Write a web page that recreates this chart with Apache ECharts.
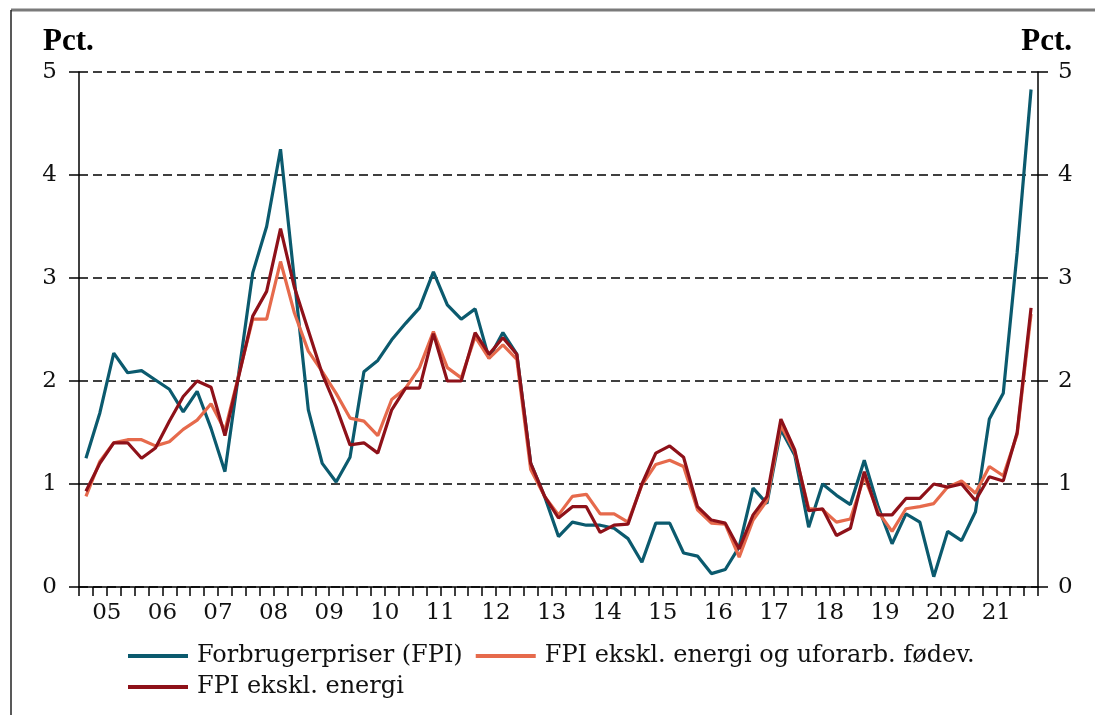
<!DOCTYPE html>
<html>
<head>
<meta charset="utf-8">
<script src="https://cdn.jsdelivr.net/npm/echarts@6/dist/echarts.min.js"></script>
<style>
  html, body { margin: 0; padding: 0; background: #fff; }
  #chart { width: 1095px; height: 715px; }
</style>
</head>
<body>
<div id="chart"></div>
<script>
// year labels on the x axis, one per year, quarterly data starts 2005K1
var yearLabels = ['05', '06', '07', '08', '09', '10', '11', '12', '13', '14', '15', '16', '17', '18', '19', '20', '21'];

// Forbrugerpriser (FPI), 2005K1 - 2022K1
var fpi = [
	1.25, 1.69, 2.27, 2.08, 2.10, 2.01, 1.92, 1.70, 1.90, 1.54,
	1.12, 2.08, 3.05, 3.50, 4.25, 2.98, 1.72, 1.20, 1.02, 1.26,
	2.09, 2.20, 2.40, 2.56, 2.71, 3.06, 2.74, 2.60, 2.70, 2.22,
	2.47, 2.26, 1.20, 0.88, 0.49, 0.63, 0.60, 0.60, 0.57, 0.47,
	0.24, 0.62, 0.62, 0.33, 0.30, 0.13, 0.17, 0.39, 0.96, 0.81,
	1.53, 1.28, 0.58, 1.00, 0.89, 0.80, 1.23, 0.78, 0.42, 0.71,
	0.63, 0.10, 0.54, 0.45, 0.73, 1.63, 1.88, 3.25, 4.83
];
// FPI ekskl. energi og uforarb. fødevarer
var core = [
	0.88, 1.22, 1.40, 1.43, 1.43, 1.37, 1.41, 1.53, 1.62, 1.78,
	1.52, 2.06, 2.60, 2.60, 3.16, 2.66, 2.29, 2.09, 1.88, 1.64,
	1.61, 1.47, 1.82, 1.93, 2.13, 2.48, 2.13, 2.03, 2.43, 2.22,
	2.35, 2.21, 1.14, 0.88, 0.70, 0.88, 0.90, 0.71, 0.71, 0.63,
	0.99, 1.19, 1.23, 1.17, 0.75, 0.62, 0.61, 0.29, 0.65, 0.84,
	1.57, 1.31, 0.76, 0.75, 0.63, 0.66, 1.07, 0.73, 0.54, 0.76,
	0.78, 0.81, 0.97, 1.03, 0.91, 1.17, 1.08, 1.48, 2.65
];
// FPI ekskl. energi
var exEnergy = [
	0.93, 1.20, 1.40, 1.40, 1.25, 1.35, 1.61, 1.85, 2.00, 1.94,
	1.47, 2.05, 2.63, 2.87, 3.48, 2.91, 2.49, 2.07, 1.75, 1.38,
	1.40, 1.30, 1.72, 1.93, 1.93, 2.46, 2.00, 2.00, 2.47, 2.26,
	2.42, 2.26, 1.20, 0.88, 0.67, 0.78, 0.78, 0.53, 0.60, 0.61,
	1.00, 1.30, 1.37, 1.26, 0.78, 0.65, 0.62, 0.37, 0.70, 0.88,
	1.63, 1.33, 0.74, 0.76, 0.50, 0.57, 1.12, 0.70, 0.70, 0.86,
	0.86, 1.00, 0.97, 1.00, 0.84, 1.07, 1.03, 1.50, 2.71
];

var nQuarters = fpi.length;
// each quarter sits in the middle of its own tick interval
function toPoints(arr) {
	return arr.map(function (v, i) { return [i + 0.5, v]; });
}

var tickFont = { fontFamily: 'DejaVu Serif', fontSize: 23, color: '#111' };
var axisBlack = { color: '#000', width: 1.5 };
var legendText = { fontFamily: 'DejaVu Serif', fontSize: 24, color: '#111', padding: [0, 0, 0, 4] };

var myChart = echarts.init(document.getElementById('chart'));
var option = {
	animation: false,
	backgroundColor: '#fff',
	grid: { left: 79, right: 57, top: 72, bottom: 128 },
	xAxis: {
		type: 'value',
		min: 0,
		max: nQuarters,
		interval: 1,
		axisLine: { show: true, lineStyle: axisBlack },
		axisTick: { show: true, inside: false, length: 9, lineStyle: axisBlack },
		splitLine: { show: false },
		axisLabel: Object.assign({
			margin: 15,
			formatter: function (v) {
				// year label in the middle of its four quarters
				if (v % 4 === 2) {
					var k = (v - 2) / 4;
					return yearLabels[k] || '';
				}
				return '';
			}
		}, tickFont)
	},
	yAxis: [
		{
			type: 'value',
			min: 0, max: 5, interval: 1,
			position: 'left',
			axisLine: { show: true, lineStyle: axisBlack },
			axisTick: { show: true, length: 10, lineStyle: axisBlack },
			splitLine: { show: true, lineStyle: { color: '#000', width: 1.6, type: [9, 5] } },
			axisLabel: Object.assign({ margin: 22 }, tickFont)
		},
		{
			type: 'value',
			min: 0, max: 5, interval: 1,
			position: 'right',
			axisLine: { show: true, lineStyle: axisBlack },
			axisTick: { show: true, length: 10, lineStyle: axisBlack },
			splitLine: { show: false },
			axisLabel: Object.assign({ margin: 20 }, tickFont)
		}
	],
	legend: [
		{
			left: 123,
			top: 639,
			itemWidth: 60,
			itemHeight: 4,
			itemGap: 13,
			icon: 'rect',
			textStyle: legendText,
			data: ['Forbrugerpriser (FPI)', 'FPI ekskl. energi og uforarb. fødev.']
		},
		{
			left: 123,
			top: 670,
			itemWidth: 60,
			itemHeight: 4,
			icon: 'rect',
			textStyle: legendText,
			data: ['FPI ekskl. energi']
		}
	],
	graphic: [
		// frame remains of the original figure box
		{ type: 'line', shape: { x1: 11, y1: 10, x2: 1095, y2: 10 }, style: { stroke: '#7a7a7a', lineWidth: 3 } },
		{ type: 'line', shape: { x1: 11, y1: 10, x2: 11, y2: 715 }, style: { stroke: '#222', lineWidth: 1.5 } },
		{ type: 'text', left: 43, top: 26, style: { text: 'Pct.', font: 'bold 31px "Liberation Serif"', fill: '#000' } },
		{ type: 'text', right: 23, top: 26, style: { text: 'Pct.', font: 'bold 31px "Liberation Serif"', fill: '#000' } }
	],
	series: [
		{
			name: 'Forbrugerpriser (FPI)',
			type: 'line',
			symbol: 'none',
			data: toPoints(fpi),
			itemStyle: { color: '#0b5a6e' },
			lineStyle: { color: '#0b5a6e', width: 3.2 }
		},
		{
			name: 'FPI ekskl. energi og uforarb. fødev.',
			type: 'line',
			symbol: 'none',
			data: toPoints(core),
			itemStyle: { color: '#e66a4c' },
			lineStyle: { color: '#e66a4c', width: 3.2 }
		},
		{
			name: 'FPI ekskl. energi',
			type: 'line',
			symbol: 'none',
			data: toPoints(exEnergy),
			itemStyle: { color: '#8e1119' },
			lineStyle: { color: '#8e1119', width: 3.2 }
		}
	]
};
myChart.setOption(option);
</script>
</body>
</html>
